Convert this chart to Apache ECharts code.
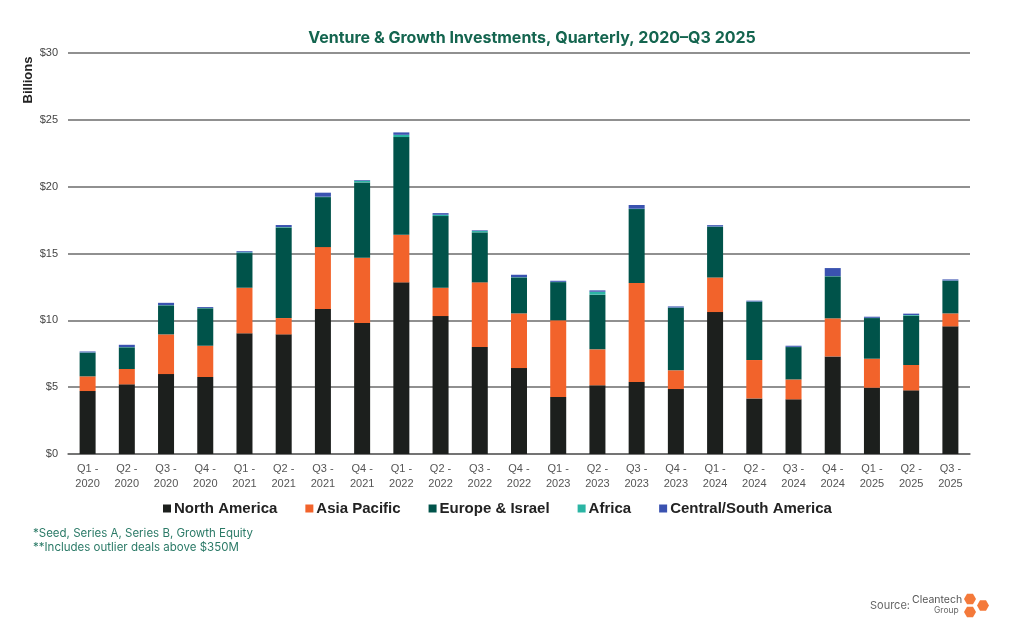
<!DOCTYPE html>
<html>
<head>
<meta charset="utf-8">
<title>Venture & Growth Investments</title>
<script src="https://cdn.jsdelivr.net/npm/echarts@6/dist/echarts.min.js"></script>
<style>
html,body{margin:0;padding:0;background:#fff;}
#main{width:1024px;height:637px;}
</style>
</head>
<body>
<div id="main"></div>
<script>
// quarters
var quarters = ['Q1 - 2020','Q2 - 2020','Q3 - 2020','Q4 - 2020','Q1 - 2021','Q2 - 2021','Q3 - 2021','Q4 - 2021',
	'Q1 - 2022','Q2 - 2022','Q3 - 2022','Q4 - 2022','Q1 - 2023','Q2 - 2023','Q3 - 2023','Q4 - 2023',
	'Q1 - 2024','Q2 - 2024','Q3 - 2024','Q4 - 2024','Q1 - 2025','Q2 - 2025','Q3 - 2025'];
// $ billions per region
var northAmerica = [4.71,5.21,5.98,5.76,9.03,8.95,10.85,9.80,12.84,10.32,8.00,6.43,4.26,5.14,5.39,4.86,10.62,4.16,4.09,7.30,4.96,4.76,9.55];
var asiaPacific  = [1.10,1.15,2.97,2.34,3.41,1.22,4.63,4.88,3.56,2.12,4.84,4.09,5.74,2.69,7.40,1.40,2.59,2.87,1.49,2.85,2.17,1.90,0.97];
var europeIsrael = [1.77,1.62,2.17,2.80,2.59,6.78,3.74,5.64,7.31,5.36,3.74,2.69,2.86,4.09,5.53,4.68,3.79,4.36,2.42,3.14,3.04,3.69,2.44];
var africa       = [0.02,0.02,0.02,0.02,0.06,0.03,0.03,0.12,0.17,0.10,0.10,0.02,0.02,0.22,0.03,0.02,0.02,0.02,0.02,0.02,0.02,0.05,0.02];
var centralSouth = [0.07,0.17,0.17,0.07,0.08,0.15,0.30,0.05,0.18,0.12,0.05,0.18,0.08,0.10,0.28,0.08,0.10,0.06,0.08,0.60,0.08,0.10,0.08];
var yTicks = [0,5,10,15,20,25,30];

var colors = {
	na:'#1c1f1d',
	ap:'#f2632b',
	eu:'#00534a',
	af:'#2bb5a4',
	cs:'#3a52b0'
};

function hexPoints(cx,cy,r){
	var pts = [];
	for(var i=0;i<6;i++){
		var a = Math.PI/180*(60*i);
		pts.push([cx+r*Math.cos(a), cy+r*Math.sin(a)]);
	}
	return pts;
}

var chart = echarts.init(document.getElementById('main'));

function bar(name,data,color){
	return {
		name:name,
		type:'bar',
		stack:'total',
		barWidth:16,
		data:data,
		itemStyle:{color:color},
		emphasis:{disabled:true}
	};
}

chart.setOption({
	animation:false,
	title:{
		text:'Venture & Growth Investments, Quarterly, 2020\u2013Q3 2025',
		left:527,
		textAlign:'center',
		top:25,
		textStyle:{color:'#14654f',fontSize:16,fontWeight:'bold',fontFamily:'Inter'}
	},
	grid:{left:68,right:54,top:53,bottom:183},
	legend:{
		top:496,
		left:158,
		itemWidth:8,
		itemHeight:8,
		itemGap:28,
		icon:'rect',
		textStyle:{color:'#222',fontSize:15,fontWeight:'bold',fontFamily:'Liberation Sans',padding:[0,0,0,-2]},
		data:['North America','Asia Pacific','Europe & Israel','Africa','Central/South America']
	},
	xAxis:{
		type:'category',
		data:quarters,
		axisTick:{show:false},
		axisLine:{lineStyle:{color:'#6b6b6b',width:1.5}},
		axisLabel:{
			color:'#555',
			fontSize:11,
			fontFamily:'Liberation Sans',
			lineHeight:15,
			margin:7,
			interval:0,
			formatter:function(v){return v.replace(' - ',' -\n');}
		}
	},
	yAxis:{
		type:'value',
		min:yTicks[0],
		max:yTicks[yTicks.length-1],
		interval:5,
		axisLine:{show:false},
		axisTick:{show:false},
		axisLabel:{color:'#444',fontSize:11,fontFamily:'Liberation Sans',margin:10,formatter:function(v){return '$'+v;}},
		splitLine:{lineStyle:{color:'#6b6b6b',width:1.5}}
	},
	series:[
		bar('North America',northAmerica,colors.na),
		bar('Asia Pacific',asiaPacific,colors.ap),
		bar('Europe & Israel',europeIsrael,colors.eu),
		bar('Africa',africa,colors.af),
		bar('Central/South America',centralSouth,colors.cs)
	],
	graphic:[
		{type:'text',x:28,y:80,rotation:Math.PI/2,style:{text:'Billions',fill:'#222',font:'bold 13px "Liberation Sans"',align:'center',verticalAlign:'middle'}},
		{type:'text',left:33,top:528,style:{text:'*Seed, Series A, Series B, Growth Equity',fill:'#2b7a67',font:'11.5px "Inter"'}},
		{type:'text',left:33,top:542,style:{text:'**Includes outlier deals above $350M',fill:'#2b7a67',font:'11.5px "Inter"'}},
		{type:'text',left:870,top:600,style:{text:'Source:',fill:'#666',font:'11px "Inter"'}},
		{type:'text',left:912,top:594,style:{text:'Cleantech',fill:'#555',font:'10.5px "Inter"'}},
		{type:'text',left:934,top:606,style:{text:'Group',fill:'#666',font:'8.5px "Inter"'}},
		{type:'polygon',shape:{points:hexPoints(970,599,6)},style:{fill:'#f4793a'}},
		{type:'polygon',shape:{points:hexPoints(983,605.5,6)},style:{fill:'#f4793a'}},
		{type:'polygon',shape:{points:hexPoints(970,612,6)},style:{fill:'#f4793a'}}
	]
});
</script>
</body>
</html>
